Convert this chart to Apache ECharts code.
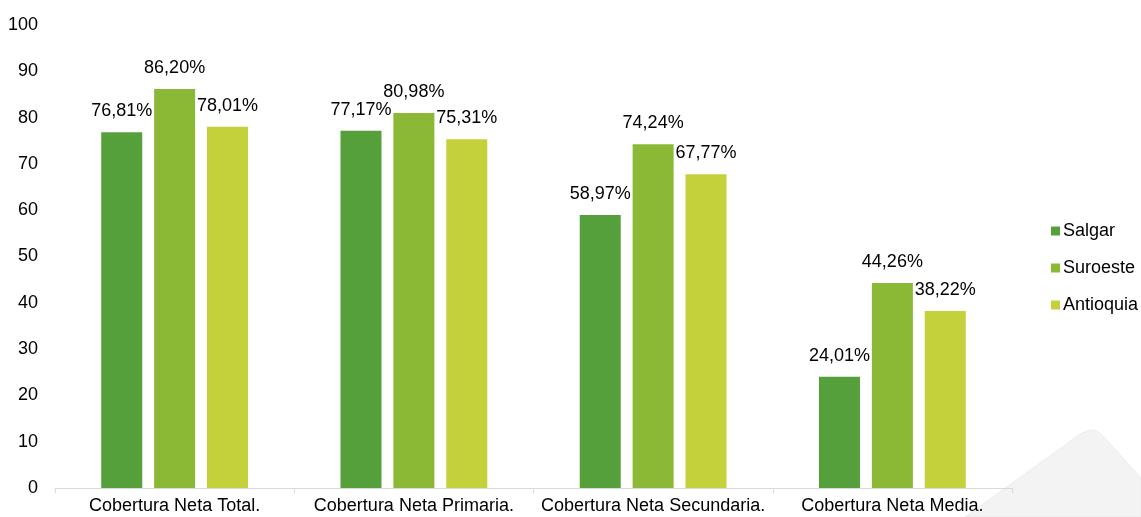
<!DOCTYPE html>
<html>
<head>
<meta charset="utf-8">
<script src="https://cdn.jsdelivr.net/npm/echarts@6/dist/echarts.min.js"></script>
<style>html,body{margin:0;padding:0;background:#fff;}#c{width:1141px;height:517px;}</style>
</head>
<body>
<div id="c"></div>
<script>
var categories = ['Cobertura Neta Total.', 'Cobertura Neta Primaria.', 'Cobertura Neta Secundaria.', 'Cobertura Neta Media.'];
var seriesNames = ['Salgar', 'Suroeste', 'Antioquia'];
var salgar = [76.81, 77.17, 58.97, 24.01];
var suroeste = [86.20, 80.98, 74.24, 44.26];
var antioquia = [78.01, 75.31, 67.77, 38.22];
var colors = ['#56A03B', '#8BB935', '#C4D13B'];

var font = 'Liberation Sans, Arial, sans-serif';
function fmt(p) { return p.value.toFixed(2).replace('.', ',') + '%'; }
function mk(name, data, color) {
  return {
    name: name, type: 'bar', data: data, barWidth: 41, barGap: '29%',
    itemStyle: { color: color },
    label: { show: true, position: 'top', distance: 12, formatter: fmt,
      color: '#000', fontSize: 18, fontFamily: font }
  };
}
var chart = echarts.init(document.getElementById('c'));
chart.setOption({
  animation: false,
  backgroundColor: '#fff',
  graphic: [{
    type: 'polygon', z: -10, silent: true,
    shape: { points: [[965,517],[1072,440],[1080,434],[1087,431],[1093,430],[1098,432],[1104,437],[1141,478],[1141,517]] },
    style: { fill: '#f3f3f3', stroke: '#e4e4e4', lineWidth: 0.6 }
  }],
  grid: { left: 55, right: 129, top: 25, bottom: 29, containLabel: false },
  legend: {
    orient: 'vertical', left: 1046, top: 217, itemGap: 19,
    itemWidth: 9, itemHeight: 9, icon: 'rect',
    textStyle: { fontSize: 18, fontFamily: font, color: '#000', padding: [0, 0, 0, -2] },
    data: seriesNames
  },
  xAxis: {
    type: 'category', data: categories,
    axisLine: { lineStyle: { color: '#d9d9d9', width: 1 } },
    axisTick: { show: true, length: 5, lineStyle: { color: '#d9d9d9' } },
    axisLabel: { interval: 0, fontSize: 18, fontFamily: font, color: '#000', margin: 9 }
  },
  yAxis: {
    type: 'value', min: 0, max: 100, interval: 10,
    axisLine: { show: false }, axisTick: { show: false },
    splitLine: { show: false },
    axisLabel: { fontSize: 18, fontFamily: font, color: '#000', margin: 17 }
  },
  series: [
    mk(seriesNames[0], salgar, colors[0]),
    mk(seriesNames[1], suroeste, colors[1]),
    mk(seriesNames[2], antioquia, colors[2])
  ]
});
</script>
</body>
</html>
